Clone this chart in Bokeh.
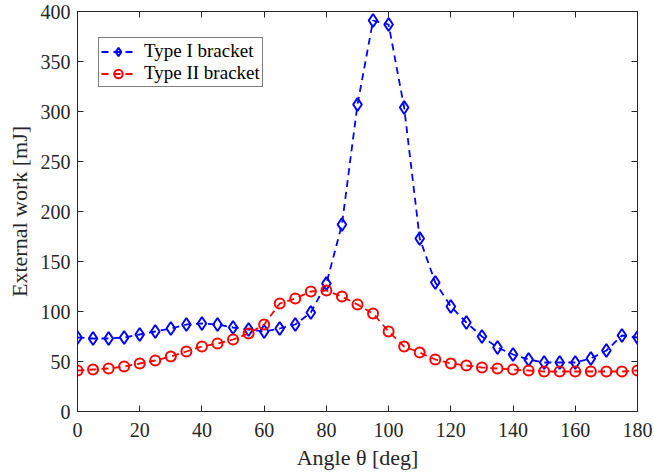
from bokeh.plotting import figure
from bokeh.models import LinearAxis, FixedTicker, Range1d, Legend, LegendItem
from bokeh.embed import file_html
from bokeh.resources import INLINE

angles = list(range(0, 181, 5))
type1 = [74, 73, 73, 74, 77, 80, 83, 87, 88, 87, 84, 82, 80, 83, 87, 99, 128, 187,
         307, 391, 387, 304, 173, 129, 105, 89, 75, 64, 57, 52, 49, 49, 49, 53, 61, 76, 74]
type2 = [41, 42, 43, 45, 48, 51, 55, 60, 65, 68, 72, 78, 87, 108, 113, 120, 121, 115,
         107, 98, 80, 65, 59, 52, 48, 46, 44, 43, 42, 41, 40, 40, 40, 40, 40, 40, 41]
x_ticks = list(range(0, 181, 20))
y_ticks = list(range(0, 401, 50))

FONT = "Liberation Serif"
AX = "#262626"

p = figure(width=654, height=476, output_backend="svg", toolbar_location=None,
           x_range=Range1d(0, 180), y_range=Range1d(0, 400),
           min_border_left=77, min_border_right=17, min_border_top=11, min_border_bottom=65)
p.grid.visible = False
p.outline_line_color = AX
p.outline_line_width = 1

for ax in p.xaxis:
    ax.ticker = FixedTicker(ticks=x_ticks)
    ax.axis_label = "Angle θ [deg]"
for ax in p.yaxis:
    ax.ticker = FixedTicker(ticks=y_ticks)
    ax.axis_label = "External work [mJ]"

for ax in p.xaxis + p.yaxis:
    ax.major_tick_in = 6
    ax.major_tick_out = 0
    ax.minor_tick_line_color = None
    ax.axis_line_color = AX
    ax.major_tick_line_color = AX
    ax.major_label_text_font = FONT
    ax.major_label_text_font_size = "20px"
    ax.major_label_text_color = AX
    ax.axis_label_text_font = FONT
    ax.axis_label_text_font_size = "22px"
    ax.axis_label_text_font_style = "normal"
    ax.axis_label_text_color = AX
p.xaxis.major_label_standoff = 11
p.xaxis.axis_label_standoff = 5
p.yaxis.major_label_standoff = 7
p.yaxis.axis_label_standoff = 6

top = LinearAxis(ticker=FixedTicker(ticks=x_ticks), major_label_text_font_size="1px",
                 major_label_text_color=None,
                 major_tick_in=6, major_tick_out=0, minor_tick_line_color=None,
                 axis_line_color=AX, major_tick_line_color=AX, major_label_standoff=0)
right = LinearAxis(ticker=FixedTicker(ticks=y_ticks), major_label_text_font_size="1px",
                   major_label_text_color=None,
                   major_tick_in=6, major_tick_out=0, minor_tick_line_color=None,
                   axis_line_color=AX, major_tick_line_color=AX, major_label_standoff=0)
p.add_layout(top, "above")
p.add_layout(right, "right")

l1 = p.line(angles, type1, line_color="#0000ff", line_width=1.8, line_dash="7 5")
m1 = p.scatter(angles, type1, marker="diamond", size=13, fill_color=None,
               line_color="#0000ff", line_width=2)
l2 = p.line(angles, type2, line_color="#ff0000", line_width=1.8, line_dash="7 5")
m2 = p.scatter(angles, type2, marker="circle", size=10, fill_color=None,
               line_color="#ff0000", line_width=2)

legend = Legend(items=[LegendItem(label="Type I bracket", renderers=[l1, m1]),
                       LegendItem(label="Type II bracket", renderers=[l2, m2])],
                location=(21, 324), label_text_font=FONT, label_text_font_size="19px",
                label_text_color="#000000", border_line_color="#000000", border_line_width=1,
                padding=2, spacing=0, margin=0, glyph_width=34, glyph_height=21,
                label_standoff=9, label_height=21)
p.add_layout(legend, "center")

open("out.html", "w").write(file_html(p, INLINE))
